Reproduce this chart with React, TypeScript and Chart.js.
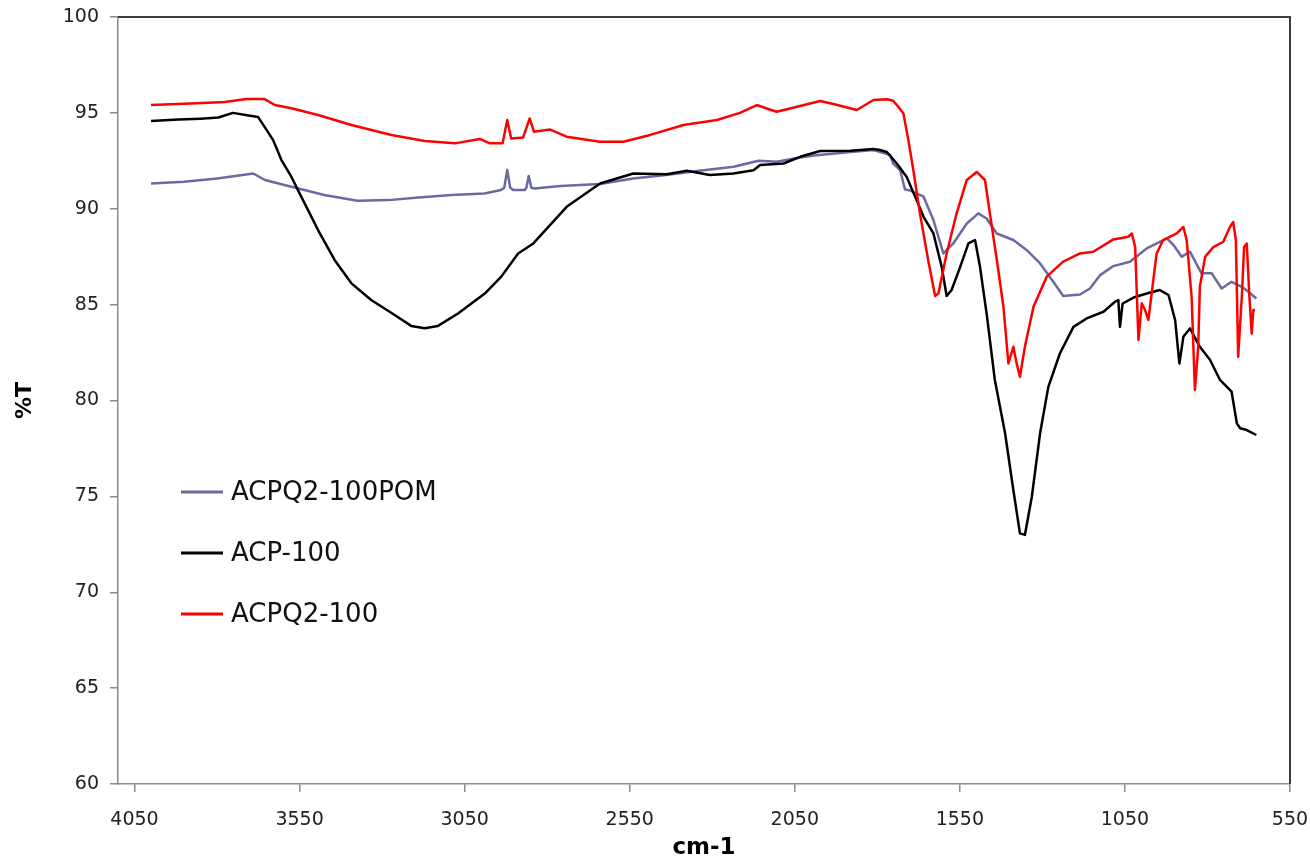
import React, { useEffect, useRef } from "react";
import { Chart, registerables } from "chart.js";

Chart.register(...registerables);

const FONT = "'DejaVu Sans', Verdana, sans-serif";

const xTickValues = [4050, 3550, 3050, 2550, 2050, 1550, 1050, 550];
const yTickValues = [60, 65, 70, 75, 80, 85, 90, 95, 100];
const xTitle = "cm-1";
const yTitle = "%T";

const seriesNames = ["ACPQ2-100POM", "ACP-100", "ACPQ2-100"];
const seriesColors = ["#6A6AA2", "#000000", "#FF0000"];

// ACPQ2-100POM
const pomWn = [
  4000, 3900, 3800, 3690, 3655, 3575, 3475, 3375, 3280, 3190, 3090, 2990, 2940, 2930, 2921, 2912, 2903,
  2868, 2863, 2856, 2848, 2838, 2760, 2640, 2540, 2440, 2340, 2235, 2160, 2105, 2035, 1985, 1880,
  1812, 1790, 1761, 1752, 1731, 1716, 1700, 1681, 1660, 1630, 1600, 1570, 1529, 1494, 1469, 1438,
  1388, 1348, 1307, 1267, 1237, 1186, 1156, 1125, 1085, 1035, 984, 923, 903, 878, 853, 818, 787,
  757, 727, 696, 676, 652,
];
const pomT = [
  91.32, 91.41, 91.58, 91.84, 91.5, 91.15, 90.72, 90.42, 90.45, 90.59, 90.72, 90.8, 90.98, 91.1, 92.02, 91.1, 90.98,
  90.98, 91.1, 91.71, 91.1, 91.06, 91.19, 91.29, 91.58, 91.76, 91.98, 92.19, 92.5, 92.45, 92.67, 92.79, 92.96,
  93.06, 92.96, 92.8, 92.36, 92.02, 91.0, 90.95, 90.8, 90.63, 89.41, 87.67, 88.19, 89.23, 89.76, 89.49, 88.71,
  88.37, 87.85, 87.15, 86.19, 85.45, 85.53, 85.84, 86.54, 87.01, 87.24, 87.93, 88.45, 88.11, 87.5, 87.76, 86.63, 86.63,
  85.84, 86.19, 85.93, 85.67, 85.32,
];

// ACP-100
const acpWn = [
  4000, 3917, 3850, 3796, 3752, 3700, 3676, 3656, 3630, 3605, 3575, 3545, 3494, 3444, 3393, 3333,
  3262, 3212, 3171, 3131, 3070, 2989, 2939, 2888, 2842, 2741, 2640, 2539, 2438, 2377, 2307, 2236,
  2175, 2155, 2084, 2034, 1973, 1882, 1812, 1792, 1771, 1741, 1711, 1681, 1660, 1630, 1605, 1590,
  1575, 1549, 1524, 1504, 1489, 1469, 1444, 1413, 1388, 1368, 1353, 1332, 1307, 1282, 1247, 1206,
  1166, 1115, 1080, 1070, 1065, 1057, 1024, 984, 944, 918, 898, 885, 873, 853, 823, 792, 762, 727,
  711, 701, 681, 652,
];
const acpT = [
  94.58, 94.65, 94.7, 94.76, 95.0, 94.85, 94.79, 94.27, 93.58, 92.54, 91.67, 90.63, 88.89, 87.33, 86.11, 85.24,
  84.46, 83.89, 83.77, 83.89, 84.54, 85.58, 86.46, 87.67, 88.19, 90.1, 91.32, 91.84, 91.8, 91.98, 91.76, 91.84,
  92.01, 92.28, 92.36, 92.71, 93.01, 93.02, 93.12, 93.06, 92.96, 92.36, 91.66, 90.45, 89.58, 88.71, 86.97, 85.45,
  85.76, 86.97, 88.19, 88.37, 86.97, 84.54, 81.07, 78.29, 75.33, 73.07, 72.99, 74.98, 78.29, 80.71, 82.45, 83.84,
  84.28, 84.63, 85.15, 85.24, 83.84, 85.06, 85.37, 85.58, 85.76, 85.5, 84.2, 81.93, 83.32, 83.76, 82.8, 82.11, 81.07, 80.46,
  78.81, 78.55, 78.46, 78.2,
];

// ACPQ2-100
const q2Wn = [
  4000, 3863, 3777, 3711, 3656, 3625, 3575, 3494, 3393, 3272, 3171, 3080, 3004, 2974, 2935, 2921,
  2909, 2873, 2853, 2840, 2791, 2741, 2640, 2569, 2488, 2387, 2286, 2216, 2165, 2135, 2105, 2034,
  1973, 1933, 1862, 1812, 1770, 1752, 1736, 1721, 1706, 1691, 1671, 1646, 1625, 1615, 1590, 1560,
  1529, 1499, 1474, 1459, 1438, 1418, 1403, 1388, 1378, 1368, 1353, 1327, 1287, 1237, 1186, 1146,
  1085, 1040, 1029, 1019, 1009, 999, 989, 979, 969, 954, 934, 893, 873, 863, 848, 838, 828, 823,
  807, 782, 752, 732, 722, 714, 707, 696, 689, 681, 673, 666, 661, 656,
];
const q2T = [
  95.41, 95.5, 95.57, 95.72, 95.72, 95.41, 95.24, 94.89, 94.37, 93.85, 93.53, 93.41, 93.64, 93.41, 93.41, 94.63,
  93.66, 93.72, 94.71, 94.02, 94.13, 93.76, 93.49, 93.49, 93.85, 94.37, 94.63, 95.0, 95.41, 95.23, 95.06, 95.36,
  95.62, 95.46, 95.15, 95.67, 95.71, 95.63, 95.31, 94.97, 93.58, 92.02, 89.76, 87.33, 85.45, 85.58, 87.67, 89.75,
  91.5, 91.92, 91.5, 89.76, 87.33, 84.89, 81.93, 82.8, 81.93, 81.24, 82.8, 84.89, 86.46, 87.24, 87.67, 87.76,
  88.4, 88.54, 88.71, 88.0, 83.16, 85.07, 84.72, 84.2, 85.58, 87.67, 88.37, 88.71, 89.05, 88.37, 85.41, 80.55, 82.8, 85.93,
  87.5, 88.0, 88.28, 89.05, 89.31, 88.37, 82.28, 85.41, 88.0, 88.19, 85.41, 83.5, 84.72, 84.72,
];

const seriesWn = [pomWn, acpWn, q2Wn];
const seriesT = [pomT, acpT, q2T];

const framePlugin = {
  id: "frameLines",
  afterDraw(chart: any) {
    const { ctx, chartArea } = chart;
    ctx.save();
    ctx.strokeStyle = "#3c3c3c";
    ctx.lineWidth = 2;
    ctx.beginPath();
    ctx.moveTo(chartArea.left, chartArea.top);
    ctx.lineTo(chartArea.right, chartArea.top);
    ctx.lineTo(chartArea.right, chartArea.bottom);
    ctx.stroke();
    ctx.restore();
  },
};

const inlineLegendPlugin = {
  id: "inlineLegend",
  afterDraw(chart: any) {
    const { ctx, chartArea } = chart;
    const lx0 = chartArea.left + 63;
    const lx1 = chartArea.left + 105;
    const tx = chartArea.left + 113;
    const y0 = chartArea.top + 475;
    const dy = 61;
    ctx.save();
    ctx.font = `26px ${FONT}`;
    ctx.textBaseline = "middle";
    ctx.textAlign = "left";
    chart.data.datasets.forEach((ds: any, i: number) => {
      const y = y0 + i * dy;
      ctx.strokeStyle = ds.borderColor;
      ctx.lineWidth = 3;
      ctx.beginPath();
      ctx.moveTo(lx0, y);
      ctx.lineTo(lx1, y);
      ctx.stroke();
      ctx.fillStyle = "#111";
      ctx.fillText(ds.label, tx, y + 1);
    });
    ctx.restore();
  },
};

const zeroPadding = (scale: any) => {
  scale.paddingLeft = 0;
  scale.paddingRight = 0;
  scale.paddingTop = 0;
  scale.paddingBottom = 0;
};

export default function App() {
  const canvasRef = useRef<HTMLCanvasElement | null>(null);

  useEffect(() => {
    if (!canvasRef.current) return;
    const drawOrder = [3, 2, 1];
    const datasets = seriesNames.map((name, i) => ({
      label: name,
      data: seriesWn[i].map((x, j) => ({ x, y: seriesT[i][j] })),
      borderColor: seriesColors[i],
      backgroundColor: seriesColors[i],
      borderWidth: 2.5,
      borderJoinStyle: "round" as const,
      pointRadius: 0,
      tension: 0,
      fill: false,
      order: drawOrder[i],
    }));

    const chart = new Chart(canvasRef.current, {
      type: "line",
      data: { datasets },
      options: {
        animation: false,
        responsive: false,
        devicePixelRatio: 1,
        layout: { padding: { top: 17, right: 20, left: 0, bottom: 0 } },
        plugins: {
          legend: { display: false },
          tooltip: { enabled: false },
        },
        scales: {
          x: {
            type: "linear",
            reverse: true,
            min: 550,
            max: 4100,
            afterBuildTicks: (scale: any) => {
              scale.ticks = xTickValues.map((v) => ({ value: v }));
            },
            afterFit: (scale: any) => {
              scale.height = 76;
              zeroPadding(scale);
            },
            grid: {
              drawOnChartArea: false,
              drawTicks: true,
              tickLength: 8,
              color: "#8a8a8a",
              lineWidth: 1.5,
            },
            border: { display: true, color: "#8a8a8a", width: 1.5 },
            ticks: {
              padding: 17,
              color: "#222",
              font: { family: FONT, size: 19 },
              maxRotation: 0,
              autoSkip: false,
              callback: (v: any) => String(v),
            },
            title: {
              display: true,
              text: xTitle,
              color: "#000",
              font: { family: FONT, size: 23, weight: "bold", lineHeight: 1 },
              padding: { top: 0, bottom: 0 },
            },
          },
          y: {
            type: "linear",
            min: 60,
            max: 100,
            afterBuildTicks: (scale: any) => {
              scale.ticks = yTickValues.map((v) => ({ value: v }));
            },
            afterFit: (scale: any) => {
              scale.width = 118;
              zeroPadding(scale);
            },
            grid: {
              drawOnChartArea: false,
              drawTicks: true,
              tickLength: 8,
              color: "#8a8a8a",
              lineWidth: 1.5,
            },
            border: { display: true, color: "#8a8a8a", width: 1.5 },
            ticks: {
              padding: 11,
              color: "#222",
              font: { family: FONT, size: 19 },
              callback: (v: any) => String(v),
            },
            title: {
              display: true,
              text: yTitle,
              color: "#000",
              font: { family: FONT, size: 22, weight: "bold", lineHeight: 1 },
              padding: { top: 14, bottom: 0 },
            },
          },
        },
      },
      plugins: [framePlugin, inlineLegendPlugin],
    });

    return () => {
      chart.destroy();
    };
  }, []);

  return (
    <div
      style={{
        position: "fixed",
        left: 0,
        top: 0,
        width: 1310,
        height: 860,
        background: "#fff",
      }}
    >
      <canvas ref={canvasRef} width={1310} height={860} style={{ width: 1310, height: 860, display: "block" }} />
    </div>
  );
}
